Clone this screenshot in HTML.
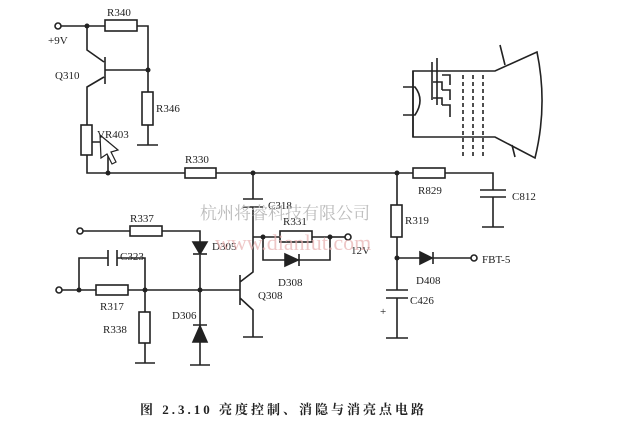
<!DOCTYPE html>
<html><head><meta charset="utf-8"><style>
html,body{margin:0;padding:0;background:#fff;width:621px;height:428px;overflow:hidden}
svg{display:block}
text{font-family:"Liberation Serif","Noto Serif CJK SC",serif;fill:#222}
</style></head><body>
<svg width="621" height="428" viewBox="0 0 621 428" xmlns="http://www.w3.org/2000/svg">
<g stroke="#222" stroke-width="1.6" fill="none">
<circle cx="58" cy="26" r="3" fill="#fff"/>
<path d="M61 26H105M137 26H148V70M105 70H148"/>
<rect x="105" y="20" width="32" height="11"/>
<path d="M105 57V84M87 26V50L104 62M104 77L87 87V125"/>
<path d="M148 70V92M148 125V145M137 145H158"/>
<rect x="142" y="92" width="11" height="33"/>
<rect x="81" y="125" width="11" height="30"/>
<path d="M92 142H108V173M87 155V173H185M216 173H413M445 173H493V190M480 190H506M480 197H506M493 197V227M482 227H504"/>
<rect x="185" y="168" width="31" height="10"/>
<rect x="413" y="168" width="32" height="10"/>
<path d="M413 71H495L537 52Q548 105 535 158L495 137H413Z"/>
<path d="M413 71V137M403 87H415Q425 100 415 115H403"/>
<path d="M432 62V100M437 58V105M442 75H450V85M442 90H450V100M442 105H450V117M433 82H442V90M433 98H442V105"/>
<path d="M463 75V157M473 75V157M483 75V157" stroke-dasharray="4 3"/>
<path d="M505 65L500 45M512 145L515 157"/>
<path d="M253 173V199M243 199H263M243 207H263M253 207V272L240 282M240 275V305M240 298L253 310V337M243 337H263"/>
<path d="M253 237H280M312 237H330V260H263V237"/>
<rect x="280" y="231" width="32" height="11"/>
<polygon points="285,254 285,266 298,260" fill="#222"/>
<path d="M299 254V266"/>
<circle cx="348" cy="237" r="3" fill="#fff"/><path d="M330 237H345"/>
<circle cx="80" cy="231" r="3" fill="#fff"/>
<path d="M83 231H130M162 231H200V242M200 255V290"/>
<rect x="130" y="226" width="32" height="10"/>
<polygon points="193,242 207,242 200,254" fill="#222"/><path d="M193 254H207"/>
<path d="M79 290V258H108M108 250V266M117 250V266M117 258H145V290"/>
<circle cx="59" cy="290" r="3" fill="#fff"/>
<path d="M62 290H96M128 290H240M145 290V312M145 343V363M135 363H155"/>
<rect x="96" y="285" width="32" height="10"/>
<rect x="139" y="312" width="11" height="31"/>
<path d="M200 290V365M190 365H210M193 325H207"/>
<polygon points="193,342 207,342 200,326" fill="#222"/>
<path d="M397 173V205M397 237V290M386 290H408M386 298H408M397 298V338M386 338H408M397 258H420M433 258H471"/>
<rect x="391" y="205" width="11" height="32"/>
<polygon points="420,252 420,264 432,258" fill="#222"/><path d="M433 252V264"/>
<circle cx="474" cy="258" r="3" fill="#fff"/>
</g>
<g fill="#222">
<circle cx="87" cy="26" r="2.5"/><circle cx="148" cy="70" r="2.5"/><circle cx="108" cy="173" r="2.5"/>
<circle cx="253" cy="173" r="2.5"/><circle cx="397" cy="173" r="2.5"/><circle cx="263" cy="237" r="2.5"/>
<circle cx="330" cy="237" r="2.5"/><circle cx="79" cy="290" r="2.5"/><circle cx="145" cy="290" r="2.5"/>
<circle cx="200" cy="290" r="2.5"/><circle cx="397" cy="258" r="2.5"/>
</g>
<path d="M100 135L118 150L111 152L116 162L112 164L107 154L101 158Z" fill="#fff" stroke="#222" stroke-width="1.2"/>
<g font-size="11">
<text x="107" y="16">R340</text><text x="48" y="44">+9V</text><text x="55" y="79">Q310</text>
<text x="156" y="112">R346</text><text x="97" y="138">VR403</text><text x="185" y="163">R330</text>
<text x="130" y="222">R337</text><text x="120" y="260">C323</text><text x="212" y="250">D305</text>
<text x="268" y="209">C318</text><text x="283" y="225">R331</text><text x="351" y="254">12V</text>
<text x="278" y="286">D308</text><text x="258" y="299">Q308</text><text x="172" y="319">D306</text>
<text x="100" y="310">R317</text><text x="103" y="333">R338</text><text x="418" y="194">R829</text>
<text x="512" y="200">C812</text><text x="405" y="224">R319</text><text x="416" y="284">D408</text>
<text x="410" y="304">C426</text><text x="380" y="315">+</text>
<text x="482" y="263" font-family="Liberation Sans,sans-serif">FBT-5</text>
</g>
<text x="200" y="219" font-size="17" style="fill:#bbb" font-family="Liberation Sans,Noto Sans CJK SC,sans-serif">杭州将睿科技有限公司</text>
<text x="215" y="250" font-size="22" style="fill:#e8b0b0" opacity="0.7">www.dianlut.com</text>
<text x="140" y="414" font-size="13" font-weight="bold" letter-spacing="3" font-family="Liberation Sans,Noto Sans CJK SC,sans-serif">图 2.3.10 亮度控制、消隐与消亮点电路</text>
</svg>
</body></html>
